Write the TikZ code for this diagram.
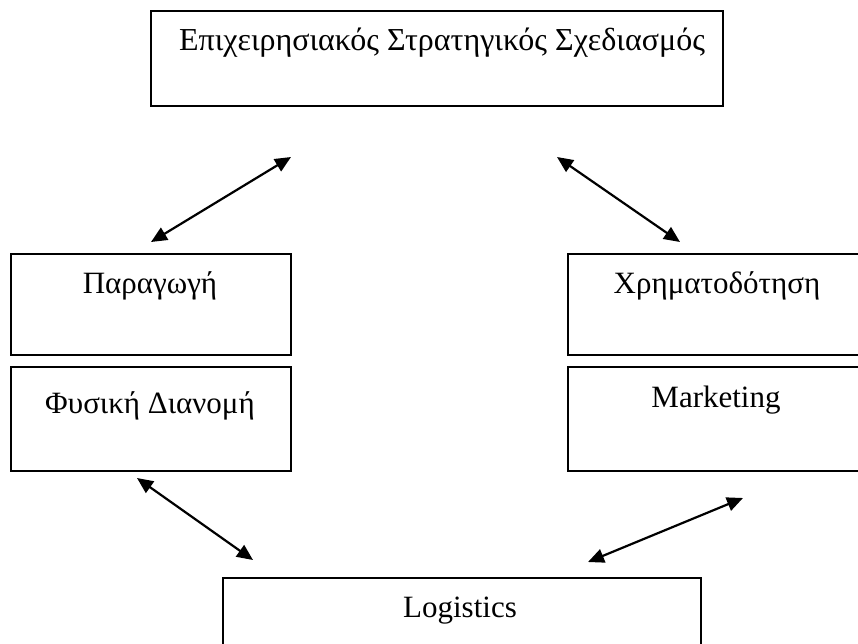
\documentclass[tikz,border=0pt]{standalone}
\usepackage{fontspec}
\setmainfont{Liberation Serif}
\usetikzlibrary{arrows.meta}
\begin{document}
\begin{tikzpicture}[x=1pt,y=-1pt,
  box/.style={draw=black,line width=1.8pt,rectangle,anchor=north west,inner sep=0pt},
  lbl/.style={anchor=base,inner sep=0pt,font=\fontsize{31}{37}\selectfont},
  link/.style={line width=2.2pt,{Triangle[length=16pt,width=14pt]}-{Triangle[length=16pt,width=14pt]}}]
\useasboundingbox (0,0) rectangle (858,643);
\clip (0,0) rectangle (858,643);
% boxes
\node[box,minimum width=572pt,minimum height=95pt] (plan) at (150,10) {};
\node[box,minimum width=280pt,minimum height=101pt] (prod) at (10,253) {};
\node[box,minimum width=280pt,minimum height=104pt] (dist) at (10,366) {};
\node[box,minimum width=300pt,minimum height=101pt] (fin) at (567,253) {};
\node[box,minimum width=300pt,minimum height=104pt] (mkt) at (567,366) {};
\node[box,minimum width=478pt,minimum height=80pt] (log) at (222,577) {};
% labels
\node[lbl,font=\fontsize{32}{38}\selectfont] (tplan) at (442,50) {Επιχειρησιακός Στρατηγικός Σχεδιασμός};
\node[lbl] (tprod) at (150,293) {Παραγωγή};
\node[lbl] (tdist) at (150,413) {Φυσική Διανομή};
\node[lbl] (tfin) at (717,293) {Χρηματοδότηση};
\node[lbl] (tmkt) at (716,407) {Marketing};
\node[lbl] (tlog) at (460,617) {Logistics};
% arrow ends
\coordinate (a1s) at (151,242);
\coordinate (a1e) at (291,157);
\coordinate (a2s) at (557,157);
\coordinate (a2e) at (680,242);
\coordinate (a3s) at (137,478);
\coordinate (a3e) at (253,560);
\coordinate (a4s) at (743,498);
\coordinate (a4e) at (588,562);
\draw[link] (a1s) -- (a1e);
\draw[link] (a2s) -- (a2e);
\draw[link] (a3s) -- (a3e);
\draw[link] (a4s) -- (a4e);
\end{tikzpicture}
\end{document}
